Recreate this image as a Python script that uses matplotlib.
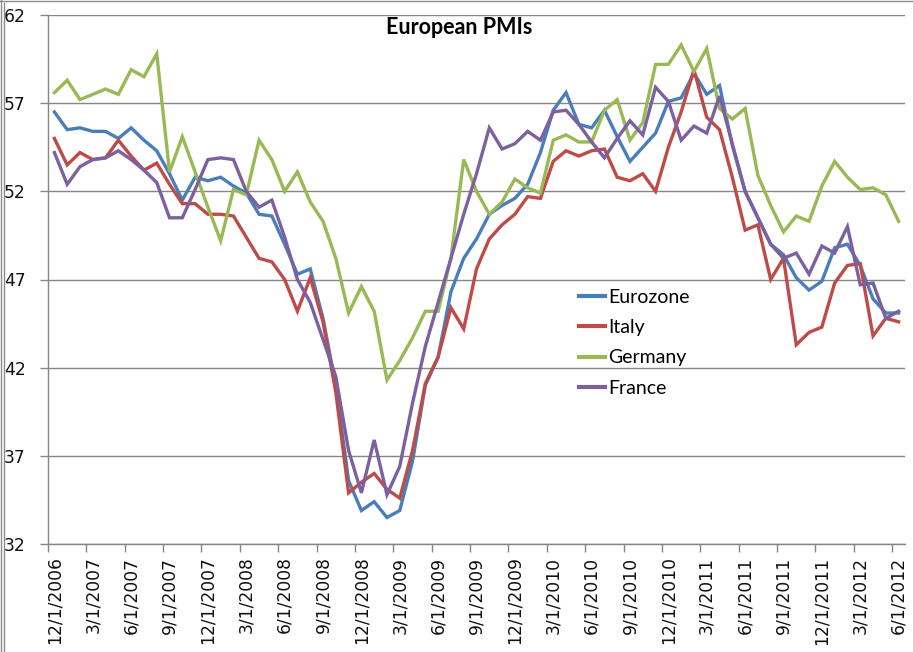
import matplotlib
matplotlib.use("Agg")
import matplotlib.pyplot as plt
from matplotlib.lines import Line2D
import numpy as np

plt.rcParams["font.family"] = ["DejaVu Sans"]

months = list(range(67))  # 12/1/2006 .. 6/1/2012, monthly

tick_labels = ["12/1/2006", "3/1/2007", "6/1/2007", "9/1/2007", "12/1/2007",
               "3/1/2008", "6/1/2008", "9/1/2008", "12/1/2008", "3/1/2009",
               "6/1/2009", "9/1/2009", "12/1/2009", "3/1/2010", "6/1/2010",
               "9/1/2010", "12/1/2010", "3/1/2011", "6/1/2011", "9/1/2011",
               "12/1/2011", "3/1/2012", "6/1/2012"]

eurozone = [56.5, 55.5, 55.6, 55.4, 55.4, 55.0, 55.6, 54.9, 54.3, 53.0,
            51.5, 52.8, 52.6, 52.8, 52.3, 51.9, 50.7, 50.6, 49.0, 47.3,
            47.6, 44.8, 41.0, 35.6, 33.9, 34.4, 33.5, 33.9, 36.7, 41.0,
            42.6, 46.3, 48.2, 49.3, 50.7, 51.2, 51.6, 52.4, 54.2, 56.6,
            57.6, 55.8, 55.6, 56.6, 55.1, 53.7, 54.5, 55.3, 57.1, 57.3,
            58.7, 57.5, 58.0, 54.6, 52.0, 50.5, 49.0, 48.4, 47.1, 46.4,
            46.9, 48.8, 49.0, 47.8, 45.9, 45.1, 45.1]

italy = [55.0, 53.5, 54.2, 53.8, 53.9, 54.9, 54.0, 53.2, 53.6, 52.4,
         51.3, 51.3, 50.7, 50.7, 50.6, 49.4, 48.2, 48.0, 47.0, 45.2,
         47.1, 44.6, 40.6, 34.9, 35.5, 36.0, 35.1, 34.6, 37.3, 41.1,
         42.6, 45.4, 44.2, 47.6, 49.3, 50.1, 50.7, 51.7, 51.6, 53.7,
         54.3, 54.0, 54.3, 54.4, 52.8, 52.6, 53.0, 52.0, 54.5, 56.5,
         58.9, 56.2, 55.5, 52.8, 49.8, 50.1, 47.0, 48.2, 43.3, 44.0,
         44.3, 46.8, 47.8, 47.9, 43.8, 44.8, 44.6]

germany = [57.6, 58.3, 57.2, 57.5, 57.8, 57.5, 58.9, 58.5, 59.8, 53.1,
           55.1, 53.1, 51.1, 49.2, 52.1, 51.8, 54.9, 53.8, 52.0, 53.1,
           51.4, 50.3, 48.2, 45.1, 46.6, 45.2, 41.3, 42.4, 43.7, 45.2,
           45.2, 48.2, 53.8, 52.0, 50.7, 51.4, 52.7, 52.2, 51.9, 54.9,
           55.2, 54.8, 54.8, 56.6, 57.2, 54.9, 55.9, 59.2, 59.2, 60.3,
           58.8, 60.1, 56.7, 56.1, 56.7, 52.9, 51.2, 49.7, 50.6, 50.3,
           52.3, 53.7, 52.8, 52.1, 52.2, 51.8, 50.3]

france = [54.2, 52.4, 53.4, 53.8, 53.9, 54.3, 53.8, 53.2, 52.5, 50.5,
          50.5, 52.1, 53.8, 53.9, 53.8, 52.0, 51.1, 51.5, 49.4, 47.0,
          45.7, 43.6, 41.5, 37.3, 34.9, 37.9, 34.8, 36.4, 40.0, 43.2,
          45.7, 48.2, 50.7, 53.0, 55.6, 54.4, 54.7, 55.4, 54.9, 56.5,
          56.6, 55.8, 54.8, 53.9, 55.0, 56.0, 55.2, 57.9, 57.1, 54.9,
          55.7, 55.3, 57.4, 54.7, 52.0, 50.5, 49.0, 48.2, 48.5, 47.3,
          48.9, 48.5, 50.0, 46.7, 46.8, 44.8, 45.2]

series = [("Eurozone", eurozone, "#4A7EBB"),
          ("Italy", italy, "#BE4B48"),
          ("Germany", germany, "#98B954"),
          ("France", france, "#7D60A0")]

fig = plt.figure(figsize=(9.13, 6.52), dpi=100)
W, H = 913, 652
ax = fig.add_axes([48 / W, 1 - 544 / H, (905 - 48) / W, (544 - 15) / H])

grid_col = "#868686"
for name, vals, col in series:
    ax.plot(months, vals, color=col, lw=2.4, label=name, solid_joinstyle="miter")

ax.set_xlim(-0.5, 66.5)
ax.set_ylim(32, 62)
ax.set_yticks(np.arange(32, 63, 5))
ax.yaxis.grid(True, color=grid_col, lw=1)
ax.set_axisbelow(True)

# tick marks at category boundaries, labels at category centres
ax.set_xticks(np.arange(-0.5, 67, 3))
ax.set_xticklabels([])
ax.set_xticks(np.arange(0, 67, 3), minor=True)
ax.set_xticklabels(tick_labels, minor=True, rotation=90, fontsize=12.3,
                   family="DejaVu Sans", color="#111111")
ax.tick_params(axis="x", which="major", length=6, color=grid_col, width=1)
ax.tick_params(axis="x", which="minor", length=0, pad=9)
ax.tick_params(axis="y", length=6, color=grid_col, width=1, labelsize=12.3,
               pad=10, labelcolor="#111111")

for s in ["top", "right"]:
    ax.spines[s].set_visible(False)
for s in ["left", "bottom"]:
    ax.spines[s].set_color(grid_col)
    ax.spines[s].set_linewidth(1)

fig.text(459 / W, 1 - 27 / H, "European PMIs", ha="center", va="center",
         fontsize=15.5, fontweight="bold", family="Lato")

leg = fig.legend(loc="upper left", bbox_to_anchor=(579 / W, 1 - 289 / H),
                 frameon=False, prop={"family": "Lato", "size": 14},
                 handlelength=1.35, handletextpad=0.15, labelspacing=0.68,
                 borderpad=0, borderaxespad=0)
for h in leg.get_lines():
    h.set_linewidth(3)

# chart area border
fig.add_artist(Line2D([1 / W, 1 / W], [0, 1], transform=fig.transFigure, color="#8a8a8a", lw=1))
fig.add_artist(Line2D([4 / W, 4 / W], [0, 1 - 3 / H], transform=fig.transFigure, color="#8a8a8a", lw=1))
fig.add_artist(Line2D([0, 1], [1 - 1 / H, 1 - 1 / H], transform=fig.transFigure, color="#8a8a8a", lw=1))

fig.savefig("out.png", dpi=100)
